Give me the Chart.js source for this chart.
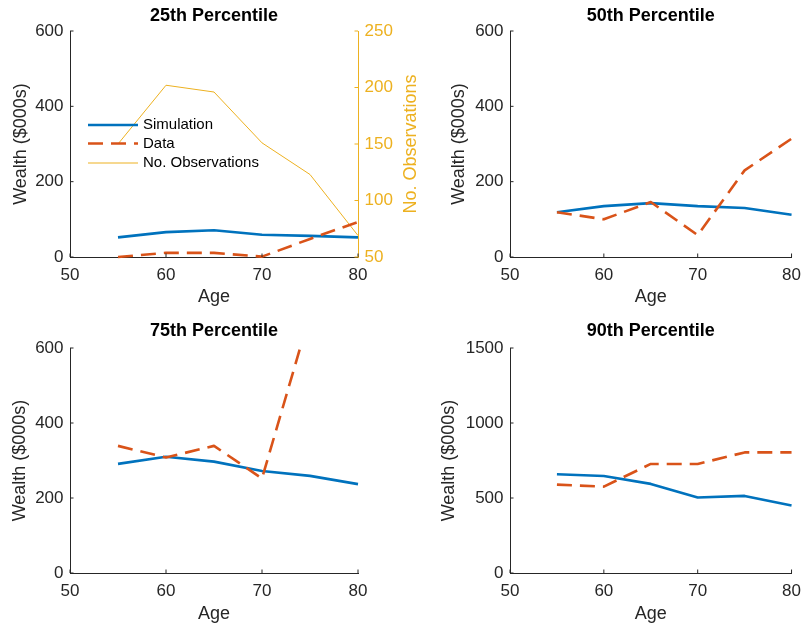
<!DOCTYPE html>
<html>
<head>
<meta charset="utf-8">
<script src="https://cdn.jsdelivr.net/npm/chart.js@4.4.1/dist/chart.umd.min.js"></script>
<style>
  html, body { margin: 0; padding: 0; background: #fff; overflow: hidden; }
  canvas { position: absolute; }
</style>
</head>
<body>
<canvas id="p25" width="420" height="310" style="left:0;top:0;width:420px;height:310px"></canvas>
<canvas id="p50" width="389" height="310" style="left:420px;top:0;width:389px;height:310px"></canvas>
<canvas id="p75" width="420" height="315" style="left:0;top:310px;width:420px;height:315px"></canvas>
<canvas id="p90" width="389" height="315" style="left:420px;top:310px;width:389px;height:315px"></canvas>
<script>
const ages = [55, 60, 65, 70, 75, 80];

const sim25 = [52, 66, 71, 59, 56, 52];
const data25 = [0, 11, 11, 1, 48, 93];
const obs25 = [150, 202, 196, 151, 123, 69];

const sim50 = [119, 135, 143, 135, 130, 112];
const data50 = [119, 100, 146, 58, 230, 314];

const sim75 = [291, 310, 297, 272, 259, 237];
const data75 = [339, 308, 339, 252, 690, 720];

const sim90 = [658, 647, 594, 503, 514, 450];
const data90 = [589, 576, 727, 727, 804, 804];

const ageTicks = [50, 60, 70, 80];
const wealthTicks = [0, 200, 400, 600];
const wealthTicks90 = [0, 500, 1000, 1500];
const obsTicks = [50, 100, 150, 200, 250];

const BLUE = '#0072BD', RED = '#D95319', YEL = '#EDB120', AX = '#262626';
const FONT = "'Liberation Sans', Arial, Helvetica, sans-serif";

const pts = ys => ages.map((a, i) => ({x: a, y: ys[i]}));

// inward MATLAB ticks, panel title, legend and the right-hand axis label
const matlabBits = {
  id: 'matlabBits',
  afterDatasetsDraw(chart, args, o) {
    const ctx = chart.ctx, a = chart.chartArea;
    const seg = (x1, y1, x2, y2) => { ctx.beginPath(); ctx.moveTo(x1, y1); ctx.lineTo(x2, y2); ctx.stroke(); };
    ctx.save();
    ctx.lineWidth = 1;
    ctx.strokeStyle = AX;
    const x = chart.scales.x, y = chart.scales.y, y2 = chart.scales.y2;
    x.ticks.forEach(t => { const p = x.getPixelForValue(t.value); seg(p, a.bottom, p, a.bottom - 3.5); });
    y.ticks.forEach(t => { const p = y.getPixelForValue(t.value); seg(a.left, p, a.left + 3.5, p); });
    if (y2) {
      ctx.strokeStyle = YEL;
      y2.ticks.forEach(t => { const p = y2.getPixelForValue(t.value); seg(a.right, p, a.right - 3.5, p); });
    }
    ctx.restore();
  },
  afterDraw(chart, args, o) {
    const ctx = chart.ctx, a = chart.chartArea;
    ctx.save();
    ctx.font = 'bold 18px ' + FONT;
    ctx.fillStyle = '#000';
    ctx.textAlign = 'center';
    ctx.textBaseline = 'middle';
    ctx.fillText(o.title, (a.left + a.right) / 2, o.titleY);
    if (o.legend) {
      const L = o.legend;
      ctx.font = '15px ' + FONT;
      ctx.textAlign = 'left';
      chart.data.datasets.forEach((d, i) => {
        const yy = L.ys[i];
        ctx.strokeStyle = d.borderColor;
        ctx.lineWidth = d.borderWidth;
        ctx.setLineDash(d.borderDash || []);
        ctx.beginPath(); ctx.moveTo(L.x0, yy); ctx.lineTo(L.x1, yy); ctx.stroke();
        ctx.setLineDash([]);
        ctx.fillStyle = '#000';
        ctx.fillText(d.label, L.tx, yy);
      });
    }
    if (o.rightTitle) {
      ctx.translate(o.rightTitle.x, (a.top + a.bottom) / 2);
      ctx.rotate(-Math.PI / 2);
      ctx.font = '18px ' + FONT;
      ctx.fillStyle = YEL;
      ctx.textAlign = 'center';
      ctx.fillText(o.rightTitle.text, 0, 0);
    }
    ctx.restore();
  }
};

function makePanel(id, p) {
  const common = {pointRadius: 0, fill: false, tension: 0, borderJoinStyle: 'round',
                  clip: {left: 4, right: 4, top: 0, bottom: 4}};
  const datasets = [
    Object.assign({label: 'Simulation', data: pts(p.sim), borderColor: BLUE, borderWidth: 2.6, order: 1}, common),
    Object.assign({label: 'Data', data: pts(p.dat), borderColor: RED, borderWidth: 2.6, borderDash: [15, 8], order: 0}, common)
  ];
  if (p.obs) {
    datasets.push(Object.assign({label: 'No. Observations', data: pts(p.obs), borderColor: YEL,
      borderWidth: 1, yAxisID: 'y2', order: 2}, common));
  }
  const tickFont = {family: FONT, size: 17};
  const labFont = {family: FONT, size: 18};
  const scales = {
    x: {
      type: 'linear', min: 50, max: 80,
      afterBuildTicks: s => { s.ticks = ageTicks.map(v => ({value: v})); },
      afterFit: s => { s.height = p.xh; },
      grid: {display: false, drawTicks: false},
      border: {color: AX, width: 1},
      ticks: {color: AX, font: tickFont, padding: 8, maxRotation: 0, callback: v => String(v)},
      title: {display: true, text: 'Age', color: AX, font: labFont,
              padding: {top: 0, bottom: p.agePad}}
    },
    y: {
      type: 'linear', position: 'left', min: 0, max: p.yTicks[p.yTicks.length - 1],
      afterBuildTicks: s => { s.ticks = p.yTicks.map(v => ({value: v})); },
      afterFit: s => { s.width = p.yw; },
      grid: {display: false, drawTicks: false},
      border: {color: AX, width: 1},
      ticks: {color: AX, font: tickFont, padding: 6.5, callback: v => String(v)},
      title: {display: true, text: 'Wealth ($000s)', color: AX, font: labFont,
              padding: {top: p.wPad, bottom: 0}}
    }
  };
  if (p.obs) {
    scales.y2 = {
      type: 'linear', position: 'right', min: 50, max: 250,
      afterBuildTicks: s => { s.ticks = obsTicks.map(v => ({value: v})); },
      afterFit: s => { s.width = p.rw; },
      grid: {display: false, drawTicks: false},
      border: {color: YEL, width: 1},
      ticks: {color: YEL, font: tickFont, padding: 6.5, callback: v => String(v)}
    };
  }
  return new Chart(document.getElementById(id), {
    type: 'line',
    data: {datasets: datasets},
    options: {
      responsive: false,
      animation: false,
      layout: {padding: {top: p.top, left: 0, bottom: 0, right: p.rp}},
      scales: scales,
      plugins: {
        legend: {display: false},
        tooltip: {enabled: false},
        matlabBits: {title: p.title, titleY: p.titleY, legend: p.legend || null, rightTitle: p.rightTitle || null}
      }
    },
    plugins: [matlabBits]
  });
}

makePanel('p25', {
  title: '25th Percentile', sim: sim25, dat: data25, obs: obs25, yTicks: wealthTicks,
  top: 31, titleY: 15.7, yw: 70, rw: 62, rp: 0, xh: 53, agePad: 2.2, wPad: 10,
  legend: {x0: 88, x1: 138, tx: 143, ys: [125, 143.5, 163]},
  rightTitle: {x: 411, text: 'No. Observations'}
});
makePanel('p50', {
  title: '50th Percentile', sim: sim50, dat: data50, yTicks: wealthTicks,
  top: 31, titleY: 15.7, yw: 90, rp: 10, xh: 53, agePad: 2.2, wPad: 28.7
});
makePanel('p75', {
  title: '75th Percentile', sim: sim75, dat: data75, yTicks: wealthTicks,
  top: 38, titleY: 21.5, yw: 70, rp: 62, xh: 52, agePad: 0, wPad: 9.5
});
makePanel('p90', {
  title: '90th Percentile', sim: sim90, dat: data90, yTicks: wealthTicks90,
  top: 38, titleY: 21.5, yw: 90, rp: 10, xh: 52, agePad: 0, wPad: 18.2
});
</script>
</body>
</html>
